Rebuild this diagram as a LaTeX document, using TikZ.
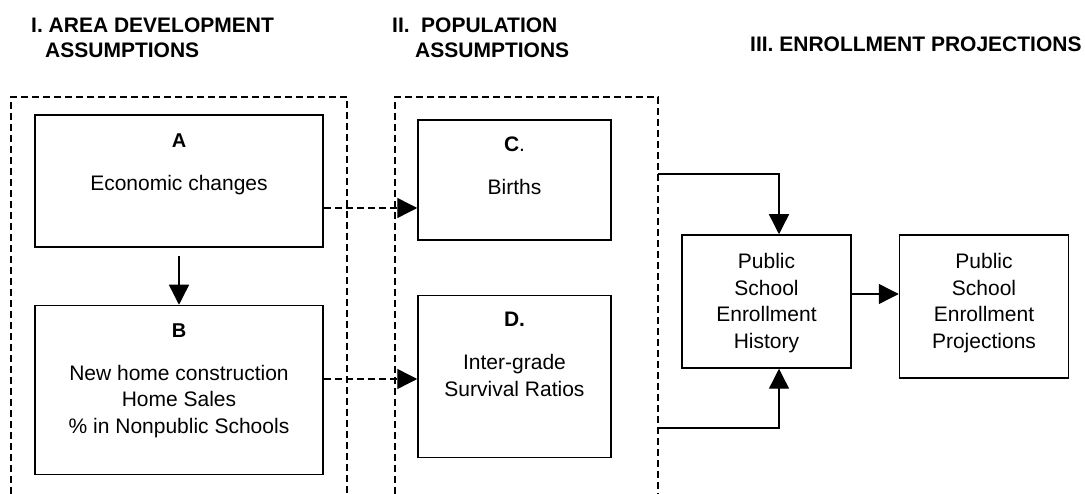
\documentclass[tikz,border=0pt]{standalone}
\usepackage{fontspec}
\setmainfont{Liberation Sans}
\usetikzlibrary{arrows.meta,positioning}

\begin{document}
\begin{tikzpicture}[
    x=1pt, y=-1pt,
    box/.style={draw, line width=1.5pt, inner sep=0pt},
    boxtext/.style={anchor=north, align=center, inner sep=0pt, font=\fontsize{21}{26.7}\selectfont},
    head/.style={inner sep=0pt, align=left, font=\fontsize{21}{25}\selectfont\bfseries},
    wire/.style={line width=1.4pt, -{Triangle[length=20pt,width=20pt]}},
    dwire/.style={wire, dash pattern=on 7pt off 4pt},
    frame/.style={line width=1.4pt, dash pattern=on 7pt off 4pt}
  ]
  \useasboundingbox (0,0) rectangle (1085,494);

  % column headings
  \node[head, anchor=north west] (hI) at (31,18) {I. AREA DEVELOPMENT\\\hspace*{14pt}ASSUMPTIONS};
  \node[head, anchor=north west] (hII) at (392,18) {II.\hspace{11.5pt}POPULATION\\\hspace*{23pt}ASSUMPTIONS};
  \node[head, anchor=base west] (hIII) at (750,52) {III. ENROLLMENT PROJECTIONS};

  % dashed groups, open at the bottom
  \draw[frame] (11,494) -- (11,97) -- (347,97) -- (347,494);
  \draw[frame] (395,494) -- (395,97) -- (658,97) -- (658,494);

  % boxes
  \node[box, minimum width=288pt, minimum height=132pt] (A) at (179,181) {};
  \node[box, minimum width=288pt, minimum height=169pt, below=57pt of A] (B) {};
  \node[box, minimum width=193pt, minimum height=120pt] (C) at (514.5,180) {};
  \node[box, minimum width=193pt, minimum height=162pt, below=54pt of C] (D) {};
  \node[box, minimum width=169pt, minimum height=133pt] (hist) at (766.5,301.5) {};
  \node[box, minimum width=169pt, minimum height=143pt, right=47pt of hist.north east, anchor=north west] (proj) {};

  % texts
  \node[boxtext] (Atext) at (A.north |- 0,133.5) {{\fontsize{20}{22}\selectfont\bfseries A}\\[16pt]Economic changes};
  \node[boxtext] (Btext) at (B.north |- 0,323.5) {{\fontsize{20}{22}\selectfont\bfseries B}\\[16pt]New home construction\\Home Sales\\\% in Nonpublic Schools};
  \node[boxtext] (Ctext) at (C.north |- 0,136.7) {{\bfseries C}.\\[16pt]Births};
  \node[boxtext] (Dtext) at (D.north |- 0,312.3) {{\bfseries D.}\\[16pt]Inter-grade\\Survival Ratios};
  \node[boxtext] (histtext) at (hist.north |- 0,253) {Public\\School\\Enrollment\\History};
  \node[boxtext] (projtext) at (proj.north |- 0,253) {Public\\School\\Enrollment\\Projections};

  % connectors
  \coordinate (popE1) at (658,174);
  \coordinate (popE2) at (658,428);
  \draw[wire] ([yshift=-8pt]A.south) -- (B.north);
  \draw[dwire] (A.east |- 0,208) -- (C.west |- 0,208);
  \draw[dwire] (B.east |- 0,379) -- (D.west |- 0,379);
  \draw[wire] (popE1) -| ([xshift=12.5pt]hist.north);
  \draw[wire] (popE2) -| ([xshift=12.5pt]hist.south);
  \draw[wire] (hist.east |- 0,294) -- (proj.west |- 0,294);
\end{tikzpicture}
\end{document}
